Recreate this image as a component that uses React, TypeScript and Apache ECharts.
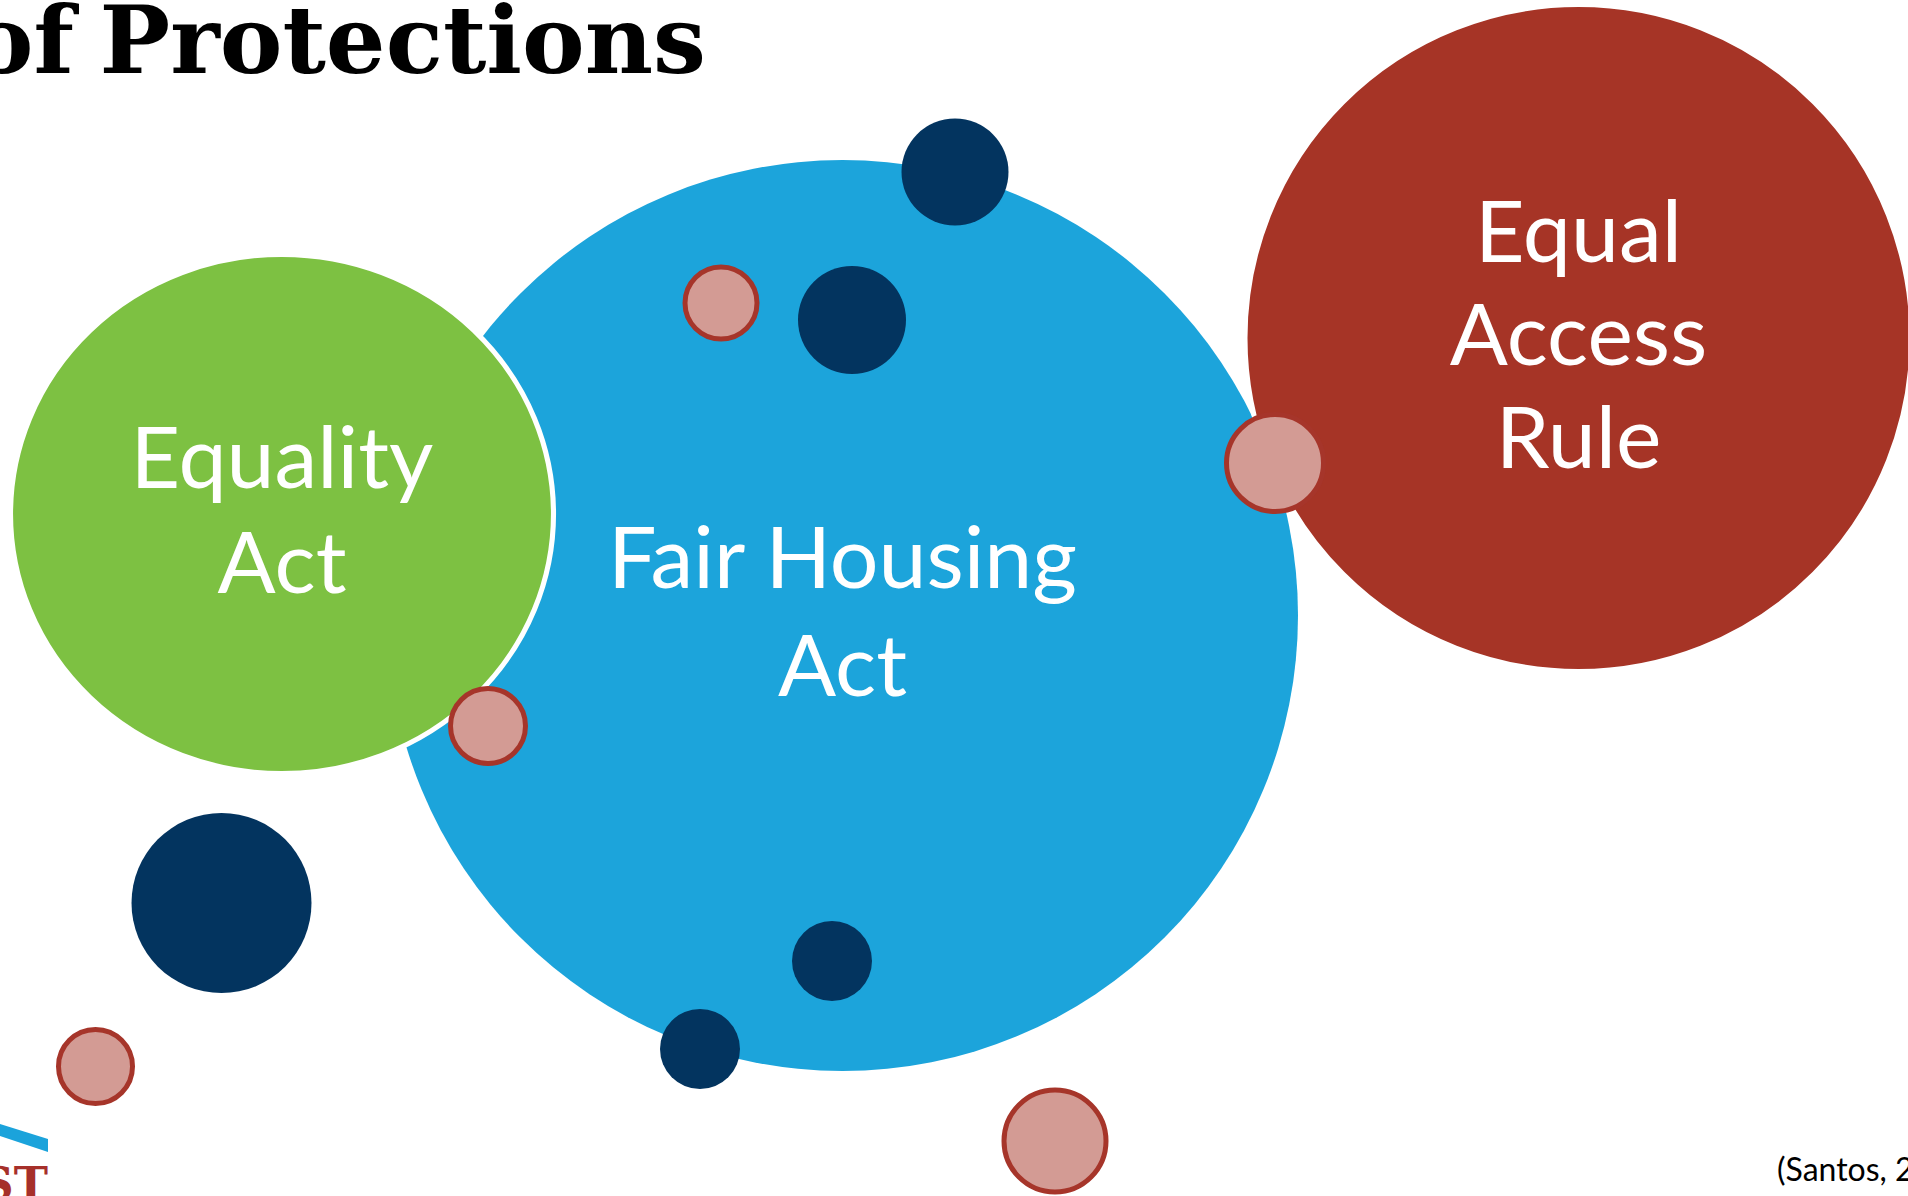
import React, { useEffect, useRef } from "react";
import * as echarts from "echarts";

const W = 1908;
const H = 1196;

const titleWords = ["of", "Protections"];
const sourceText = "(Santos, 2019)";
const logoText = "ST";

const mainLabels = ["Fair Housing\nAct", "Equality\nAct", "Equal\nAccess\nRule"];
const mainX = [842.5, 282, 1578.5];
const mainY = [615.5, 514, 338];
const mainW = [911, 543, 667];
const mainH = [911, 519, 667];
const mainColors = ["#1CA4DB", "#7DC142", "#A63426"];
const mainLineHeights = [108, 105, 103];

const navyX = [955, 852, 221.5, 832, 700];
const navyY = [172, 320, 903, 961, 1049];
const navyD = [107, 108, 180, 80, 80];

const pinkX = [721, 488, 1275, 95.5, 1055];
const pinkY = [303, 726, 463, 1066.5, 1141];
const pinkD = [77, 80, 102, 79, 107];

const ELLIPSE = "path://M0 50A50 50 0 1 1 100 50A50 50 0 1 1 0 50Z";

export default function App() {
  const ref = useRef<HTMLDivElement>(null);
  useEffect(() => {
    if (!ref.current) return;
    const chart = echarts.init(ref.current, null, { renderer: "svg" });
    const mainData = mainLabels.map((name, i) => ({
      name,
      value: [mainX[i], mainY[i]],
      symbolSize: [mainW[i], mainH[i]],
      itemStyle: {
        color: mainColors[i],
        opacity: 1,
        borderColor: i === 0 ? "transparent" : "#FFFFFF",
        borderWidth: i === 0 ? 0 : 5,
      },
      label: { lineHeight: mainLineHeights[i] },
    }));
    const navyData = navyX.map((x, i) => ({ value: [x, navyY[i]], symbolSize: navyD[i] }));
    const pinkData = pinkX.map((x, i) => ({ value: [x, pinkY[i]], symbolSize: pinkD[i] - 5 }));
    chart.setOption({
      animation: false,
      backgroundColor: "#FFFFFF",
      grid: { left: 0, right: 0, top: 0, bottom: 0 },
      xAxis: { type: "value", min: 0, max: W, show: false },
      yAxis: { type: "value", min: 0, max: H, inverse: true, show: false },
      series: [
        {
          type: "scatter",
          symbol: ELLIPSE,
          clip: false,
          data: mainData,
          itemStyle: { opacity: 1 },
          label: {
            show: true,
            position: "inside",
            offset: [0, -7],
            formatter: (p: any) => p.name,
            color: "#FFFFFF",
            fontFamily: "Lato",
            fontSize: 86,
            align: "center",
          },
          emphasis: { disabled: true },
          z: 1,
        },
        {
          type: "scatter",
          symbol: ELLIPSE,
          clip: false,
          data: navyData,
          itemStyle: { color: "#03345F", opacity: 1 },
          emphasis: { disabled: true },
          z: 2,
        },
        {
          type: "scatter",
          symbol: ELLIPSE,
          clip: false,
          data: pinkData,
          itemStyle: { color: "#D39B94", borderColor: "#A6352A", borderWidth: 5, opacity: 1 },
          emphasis: { disabled: true },
          z: 3,
        },
      ],
      graphic: [
        {
          type: "text",
          x: 74,
          y: 40,
          style: {
            text: titleWords[0],
            fill: "#000000",
            font: "bold 94px 'DejaVu Serif'",
            textAlign: "right",
            textVerticalAlign: "middle",
          },
          z: 10,
        },
        {
          type: "text",
          x: 706,
          y: 40,
          style: {
            text: titleWords[1],
            fill: "#000000",
            font: "bold 94px 'DejaVu Serif'",
            textAlign: "right",
            textVerticalAlign: "middle",
          },
          z: 10,
        },
        {
          type: "polygon",
          shape: { points: [[0, 1124], [48, 1139], [48, 1152], [0, 1136]] },
          style: { fill: "#1BA3DB" },
          z: 10,
        },
        {
          type: "text",
          x: 48,
          y: 1184,
          style: {
            text: logoText,
            fill: "#A6302A",
            font: "bold 46px 'DejaVu Serif'",
            textAlign: "right",
            textVerticalAlign: "middle",
          },
          z: 10,
        },
        {
          type: "text",
          x: 1777,
          y: 1168,
          style: {
            text: sourceText,
            fill: "#000000",
            font: "32px Lato",
            textAlign: "left",
            textVerticalAlign: "middle",
          },
          z: 10,
        },
      ],
    });
    return () => chart.dispose();
  }, []);
  return (
    <div
      ref={ref}
      style={{ position: "fixed", left: 0, top: 0, width: W, height: H }}
    />
  );
}
